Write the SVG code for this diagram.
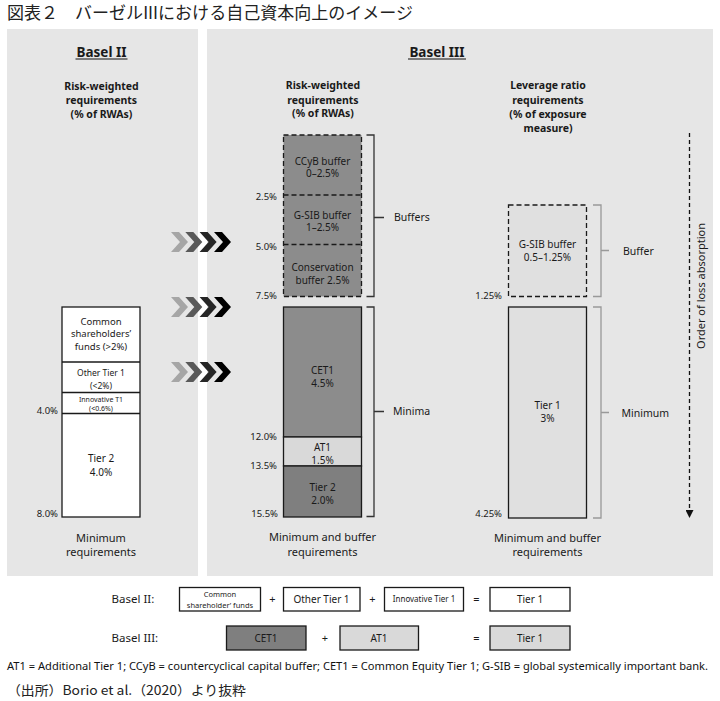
<svg xmlns="http://www.w3.org/2000/svg" width="720" height="701" viewBox="0 0 720 701">
<defs>
<style>
text{font-family:"Noto Sans","Open Sans",sans-serif;fill:#1a1a1a;}
.t{font-size:10px;text-anchor:middle;}
.h{font-size:10.5px;font-weight:bold;text-anchor:middle;}
.big{font-size:13.5px;font-weight:bold;text-anchor:middle;}
.pct{font-size:9.5px;text-anchor:end;}
.lab{font-size:10.5px;}
.cap{font-size:11px;text-anchor:middle;}
.box{stroke:#1a1a1a;stroke-width:1.3;}
.dash{stroke:#1a1a1a;stroke-width:1.3;stroke-dasharray:5,3;}
.brk{fill:none;stroke-width:1.3;}
.lg{font-size:11px;text-anchor:middle;}
</style>
<marker id="ah" viewBox="0 0 10 10" refX="10" refY="5" markerWidth="8" markerHeight="8" orient="auto" markerUnits="userSpaceOnUse">
<path d="M0,0 L10,5 L0,10 Z" fill="#111"/>
</marker>
<path id="chev" d="M0,0 L8,0 L17,10 L8,20 L0,20 L9,10 Z"/>
<g id="chevs">
<use href="#chev" x="0" fill="#a6a6a6"/>
<use href="#chev" x="14.3" fill="#595959"/>
<use href="#chev" x="28.6" fill="#262626"/>
<use href="#chev" x="43" fill="#000"/>
</g>
</defs>
<rect width="720" height="701" fill="#fff"/>
<text x="7" y="19" style="font-family:'Noto Sans CJK JP','Noto Sans',sans-serif;font-size:17px;fill:#222" textLength="406" lengthAdjust="spacingAndGlyphs">図表２　バーゼルIIIにおける自己資本向上のイメージ</text>

<g id="panels">
<rect x="7" y="29" width="191" height="547" fill="#e6e6e6"/>
<rect x="207" y="29" width="506" height="547" fill="#e6e6e6"/>
</g>

<g id="headings">
<text class="big" x="101.5" y="57">Basel II</text>
<line x1="75.5" y1="59" x2="127.5" y2="59" stroke="#111" stroke-width="1.1"/>
<text class="h" x="101.5" y="90">Risk-weighted</text>
<text class="h" x="101.5" y="104">requirements</text>
<text class="h" x="101.5" y="118">(% of RWAs)</text>
<text class="big" x="437" y="57">Basel III</text>
<line x1="408" y1="59" x2="466" y2="59" stroke="#111" stroke-width="1.1"/>
<text class="h" x="323" y="89">Risk-weighted</text>
<text class="h" x="323" y="104">requirements</text>
<text class="h" x="323" y="117">(% of RWAs)</text>
<text class="h" x="548" y="89">Leverage ratio</text>
<text class="h" x="548" y="104">requirements</text>
<text class="h" x="548" y="118">(% of exposure</text>
<text class="h" x="548" y="132">measure)</text>
</g>

<g id="basel2-column">
<rect class="box" x="62" y="307" width="78" height="210" fill="#fff"/>
<line class="box" x1="62" y1="362" x2="140" y2="362"/>
<line class="box" x1="62" y1="392.5" x2="140" y2="392.5"/>
<line class="box" x1="62" y1="413.5" x2="140" y2="413.5"/>
<text class="t" x="101" y="324.5" style="font-size:9.5px">Common</text>
<text class="t" x="101" y="337" style="font-size:9.5px">shareholders’</text>
<text class="t" x="101" y="349.5" style="font-size:9.5px">funds (&gt;2%)</text>
<text class="t" x="101" y="376" style="font-size:8.5px">Other Tier 1</text>
<text class="t" x="101" y="389" style="font-size:8.5px">(&lt;2%)</text>
<text class="t" x="101" y="402" style="font-size:7px">Innovative T1</text>
<text class="t" x="101" y="410.5" style="font-size:7px">(&lt;0.6%)</text>
<text class="t" x="101" y="461.5">Tier 2</text>
<text class="t" x="101" y="476">4.0%</text>
<text class="pct" x="58" y="413.5">4.0%</text>
<text class="pct" x="58" y="517">8.0%</text>
<text class="cap" x="101" y="542">Minimum</text>
<text class="cap" x="101" y="556">requirements</text>
</g>

<g id="chevrons">
<use href="#chevs" x="171" y="232"/>
<use href="#chevs" x="171" y="297"/>
<use href="#chevs" x="171" y="362"/>
</g>

<g id="basel3-rw">
<rect class="dash" x="283.5" y="135" width="78" height="161.5" fill="#8c8c8c"/>
<line class="dash" x1="283.5" y1="195" x2="361.5" y2="195"/>
<line class="dash" x1="283.5" y1="244.5" x2="361.5" y2="244.5"/>
<text class="t" x="322.5" y="164.5">CCyB buffer</text>
<text class="t" x="322.5" y="177">0–2.5%</text>
<text class="t" x="322.5" y="218.5">G-SIB buffer</text>
<text class="t" x="322.5" y="231">1–2.5%</text>
<text class="t" x="322.5" y="271">Conservation</text>
<text class="t" x="322.5" y="284">buffer 2.5%</text>
<rect class="box" x="283.5" y="307" width="78" height="130" fill="#8c8c8c"/>
<rect class="box" x="283.5" y="437" width="78" height="29" fill="#d9d9d9"/>
<rect class="box" x="283.5" y="466" width="78" height="51" fill="#7f7f7f"/>
<text class="t" x="322.5" y="374">CET1</text>
<text class="t" x="322.5" y="387">4.5%</text>
<text class="t" x="322.5" y="451">AT1</text>
<text class="t" x="322.5" y="464">1.5%</text>
<text class="t" x="322.5" y="491">Tier 2</text>
<text class="t" x="322.5" y="504">2.0%</text>
<text class="pct" x="277" y="199.5">2.5%</text>
<text class="pct" x="277" y="249.5">5.0%</text>
<text class="pct" x="277" y="298.5">7.5%</text>
<text class="pct" x="277" y="440">12.0%</text>
<text class="pct" x="277" y="469">13.5%</text>
<text class="pct" x="278" y="517">15.5%</text>
<path class="brk" stroke="#333" d="M366.5,135 H374 V296.5 H366.5 M374,217.5 H384"/>
<path class="brk" stroke="#333" d="M366.5,307 H374 V516.5 H366.5 M374,411.5 H384"/>
<text class="lab" x="394" y="221">Buffers</text>
<text class="lab" x="393" y="415">Minima</text>
<text class="cap" x="322.5" y="541">Minimum and buffer</text>
<text class="cap" x="322.5" y="555.5">requirements</text>
</g>

<g id="basel3-lev">
<rect class="dash" x="508.5" y="205" width="78" height="91.5" fill="#e0e0e0"/>
<text class="t" x="547.5" y="248">G-SIB buffer</text>
<text class="t" x="547.5" y="260.5">0.5–1.25%</text>
<rect class="box" x="508.5" y="307" width="78" height="211" fill="#e0e0e0"/>
<text class="t" x="547.5" y="408.5">Tier 1</text>
<text class="t" x="547.5" y="422">3%</text>
<text class="pct" x="502" y="298.5">1.25%</text>
<text class="pct" x="502" y="517">4.25%</text>
<path class="brk" stroke="#999" d="M593,205 H601 V296.5 H593 M601,250.5 H609"/>
<path class="brk" stroke="#999" d="M593,307 H601 V518 H593 M601,412.5 H609"/>
<text class="lab" x="623" y="254.5">Buffer</text>
<text class="lab" x="621.5" y="416.5">Minimum</text>
<text class="cap" x="547.5" y="542">Minimum and buffer</text>
<text class="cap" x="547.5" y="555.5">requirements</text>
</g>

<g id="connectors">
<line x1="689.5" y1="133" x2="689.5" y2="518" stroke="#111" stroke-width="1.3" stroke-dasharray="4,3" marker-end="url(#ah)"/>
</g>
<text x="0" y="0" transform="translate(705,286) rotate(-90)" style="font-size:11px;text-anchor:middle">Order of loss absorption</text>

<g id="legend">
<text x="111.5" y="603" style="font-size:11.5px">Basel II:</text>
<rect class="box" x="179.5" y="587.5" width="81" height="23.5" fill="#fff"/>
<text class="t" x="220" y="597" style="font-size:7.5px">Common</text>
<text class="t" x="220" y="607.5" style="font-size:7.5px">shareholder’ funds</text>
<text class="lg" x="272.5" y="603">+</text>
<rect class="box" x="283.5" y="587.5" width="76.5" height="23.5" fill="#fff"/>
<text class="t" x="321.5" y="602.5">Other Tier 1</text>
<text class="lg" x="372.5" y="603">+</text>
<rect class="box" x="384.5" y="587.5" width="79" height="23.5" fill="#fff"/>
<text class="t" x="424" y="602" style="font-size:8px">Innovative Tier 1</text>
<text class="lg" x="476.5" y="603">=</text>
<rect class="box" x="490" y="587.5" width="80" height="23.5" fill="#fff"/>
<text class="t" x="530" y="602.5">Tier 1</text>

<text x="111.5" y="642" style="font-size:11.5px">Basel III:</text>
<rect class="box" x="226.5" y="626" width="79.5" height="24" fill="#7f7f7f"/>
<text class="t" x="266" y="641.5">CET1</text>
<text class="lg" x="325" y="642">+</text>
<rect class="box" x="340" y="626" width="78.5" height="24" fill="#d9d9d9"/>
<text class="t" x="379" y="641.5">AT1</text>
<text class="lg" x="476.5" y="642">=</text>
<rect class="box" x="490" y="626" width="80" height="24" fill="#d9d9d9"/>
<text class="t" x="530" y="641.5">Tier 1</text>
</g>

<text x="7" y="669.5" style="font-size:10.5px;fill:#111" textLength="701" lengthAdjust="spacingAndGlyphs">AT1 = Additional Tier 1; CCyB  = countercyclical capital buffer;  CET1 = Common Equity Tier 1; G-SIB = global systemically important bank.</text>
<text x="7" y="695" style="font-family:'Noto Sans CJK JP','Noto Sans',sans-serif;font-size:13px;fill:#222" textLength="239" lengthAdjust="spacingAndGlyphs">（出所）Borio et al.（2020）より抜粋</text>
</svg>
